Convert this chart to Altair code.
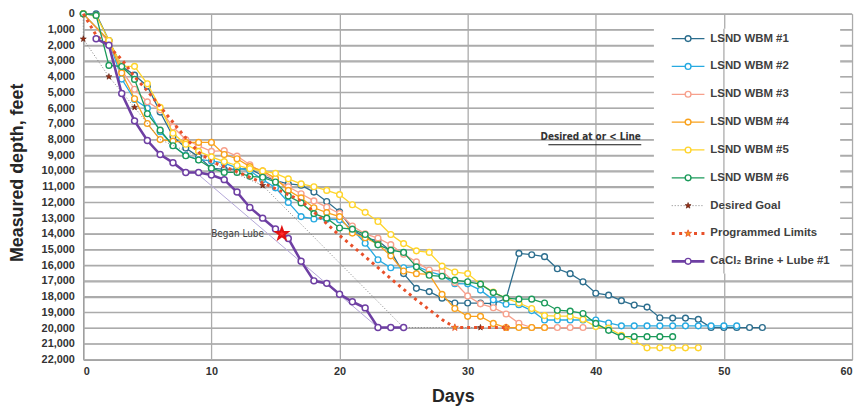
import altair as alt
import pandas as pd

# ---------------- data ----------------
WBM1_DAYS = list(range(0, 54))
WBM1_DEPTH = [0, 0, 1700, 3340, 3900, 4600, 6250, 7800, 8540, 9100,
              9820, 9900, 9880, 9850, 10300, 10613, 10820, 10900, 11340, 11940,
              12600, 13700, 14270, 14430, 15100, 16530, 17467, 17675, 18090, 18401,
              18401, 18401, 18443, 18120, 15245, 15327, 15452, 16221, 16533, 17051,
              17778, 17900, 18250, 18530, 18660, 19336, 19360, 19360, 19440, 19960,
              19960, 19960, 19960, 19960]

WBM2_DAYS = [0] + list(range(2, 52))
WBM2_DEPTH = [0, 1700, 4150, 5450, 6000, 7500, 8380, 9000, 9280, 9360,
              9500, 9800, 9990, 10550, 11070, 12000, 12900, 13050, 13064, 13105,
              13728, 14600, 15650, 16158, 16158, 16050, 16400, 16640, 17170, 17180,
              17580, 18200, 18480, 18505, 18880, 19482, 19482, 19482, 19482, 19482,
              19670, 19855, 19855, 19855, 19855, 19855, 19855, 19855, 19855, 19855,
              19855]

WBM3_DAYS = [0] + list(range(2, 40))
WBM3_DEPTH = [0, 1800, 3600, 4800, 5600, 6100, 7200, 8000, 8400, 8750,
              8700, 9050, 9600, 10100, 10600, 11000, 11450, 11900, 12300, 12700,
              13500, 14000, 14270, 14690, 15300, 15780, 16300, 16370, 17100, 17950,
              18450, 18700, 19100, 19690, 19960, 19960, 19960, 19960, 19960]

WBM4_DAYS = [0] + list(range(2, 37))
WBM4_DEPTH = [0, 1700, 3760, 5400, 6980, 8000, 8100, 8180, 8180, 8180,
              8950, 9220, 9720, 9990, 10470, 11236, 11714, 12337, 12648, 12900,
              13950, 14250, 14660, 15400, 16366, 16532, 16573, 17850, 18750, 19250,
              19250, 19700, 19960, 19960, 19960, 19960]

WBM5_DAYS = list(range(0, 49))
WBM5_DEPTH = [0, 100, 1700, 3340, 3340, 4450, 5950, 7600, 8300, 8750,
              9100, 9400, 9650, 9850, 10000, 10150, 10500, 10820, 11000, 11236,
              11500, 12150, 12630, 13210, 14040, 14620, 15080, 15180, 16050, 16430,
              16530, 17200, 17700, 18100, 18400, 18750, 19200, 19230, 19240, 19440,
              19900, 20000, 20450, 20800, 21250, 21250, 21250, 21250, 21250]

WBM6_DAYS = list(range(0, 47))
WBM6_DEPTH = [0, 100, 3280, 3350, 4170, 6356, 7400, 8391, 9030, 9300,
              9820, 10090, 10090, 10340, 10400, 10700, 11590, 12030, 12710, 13000,
              13625, 13700, 14040, 14700, 15036, 15182, 16100, 16636, 16700, 16947,
              17050, 17197, 17737, 18090, 18153, 18153, 18400, 18859, 18920, 19066,
              19700, 20140, 20540, 20540, 20540, 20540, 20540]

LUBE_DAYS = list(range(1, 26))
LUBE_DEPTH = [1580, 2000, 5070, 6810, 8060, 8950, 9470, 10095, 10095, 10260,
              10550, 11340, 12320, 13000, 13690, 14290, 15740, 16990, 17150, 17840,
              18320, 18710, 19960, 19960, 19960]

GOAL_DAYS = [0, 0, 2, 4, 6, 14, 25, 31]
GOAL_DEPTH = [0, 1600, 4000, 5950, 8000, 10920, 19960, 19960]
GOAL_MARKED = [False, True, True, True, False, True, False, True]

PROG_DAYS = [0, 1, 2, 3, 4, 5, 6, 7, 8, 9, 10, 12, 14, 16, 17, 18, 20, 22, 24, 26, 28, 29, 33]
PROG_DEPTH = [0, 1350, 2100, 2900, 4000, 4900, 5900, 6900, 7900, 8800, 9400, 10050, 10750,
              11500, 11900, 12600, 14100, 15450, 16850, 18200, 19450, 19960, 19960]
PROG_MARKED = [False] * 21 + [True, True]

TREND_DAYS = [8.8, 23]
TREND_DEPTH = [10100, 19960]

LUBE_START_DAY = [15.5]
LUBE_START_DEPTH = [14000]

NOTE_TEXTS = ["Began Lube", "Desired at or < Line"]
NOTE_DAYS = [14.1, 39.6]
NOTE_DEPTHS = [14020, 7850]
UNDERLINE_DAYS = [36.3, 43.55]
UNDERLINE_DEPTH = [8330]

X_TICKS = list(range(0, 61, 10))
Y_TICKS = list(range(0, 22001, 1000))

LEGEND_LABELS = ["LSND WBM #1", "LSND WBM #2", "LSND WBM #3", "LSND WBM #4",
                 "LSND WBM #5", "LSND WBM #6", "Desired Goal", "Programmed Limits",
                 "CaCl\u2082 Brine + Lube #1"]

# ---------------- styles ----------------
C1, C2, C3, C4, C5, C6 = "#2C6E8E", "#27AAE1", "#F7A08C", "#F9A11B", "#FFD42A", "#1B9A5A"
PURPLE = "#6E3FA3"
GOAL_C = "#808080"
GOAL_M = "#9A2E14"
PROG_C = "#E8502A"
PROG_M = "#F7941D"
TREND_C = "#B3A7D8"
GRID = "#ABABAB"
FONT = "Liberation Sans, Arial, sans-serif"
NARROW = "Liberation Sans Narrow, DejaVu Sans Condensed, Liberation Sans, sans-serif"
STAR = ("M0,-1L0.235,-0.324L0.951,-0.309L0.38,0.124L0.588,0.809L0,0.4"
        "L-0.588,0.809L-0.38,0.124L-0.951,-0.309L-0.235,-0.324Z")

X = alt.X("day:Q",
          scale=alt.Scale(domain=[0, 60], nice=False, zero=False),
          axis=alt.Axis(values=X_TICKS, title="Days", grid=True, orient="bottom",
                        gridColor=GRID, gridWidth=1.3,
                        ticks=False, tickSize=0, labelPadding=6,
                        titleX=373, titleY=37, titleBaseline="middle", titleAlign="center"))
Y = alt.Y("depth:Q",
          scale=alt.Scale(domain=[0, 22000], reverse=True, nice=False, zero=False),
          axis=alt.Axis(values=Y_TICKS, labelExpr="format(datum.value, ',')", orient="left",
                        title="Measured depth, feet", grid=True, gridColor=GRID, gridWidth=1.3,
                        ticks=False, tickSize=0, labelPadding=9,
                        titleX=-66, titleY=160, titleBaseline="middle", titleAlign="center"))


def frame(days, depths):
    return pd.DataFrame({"day": days, "depth": depths, "idx": list(range(len(days)))})


layers = []

# horizontal grid lines drawn from the tick list (beneath everything)
hgrid = pd.DataFrame({"depth": Y_TICKS})
layers.append(alt.Chart(hgrid).mark_rule(color=GRID, strokeWidth=1.3).encode(y=Y))

def series(days, depths, color, width, dash=None, points=True, psize=34, pwidth=1.4):
    df = frame(days, depths)
    kw = dict(color=color, strokeWidth=width, clip=False)
    if dash:
        kw["strokeDash"] = dash
    layers.append(alt.Chart(df).mark_line(**kw).encode(x=X, y=Y, order="idx:Q"))
    if points:
        layers.append(alt.Chart(df).mark_point(shape="circle", filled=False, fill="white",
                                               fillOpacity=1, stroke=color, strokeWidth=pwidth,
                                               size=psize, opacity=1).encode(x=X, y=Y))

series(WBM1_DAYS, WBM1_DEPTH, C1, 1.3)
series(WBM2_DAYS, WBM2_DEPTH, C2, 1.3)
series(WBM3_DAYS, WBM3_DEPTH, C3, 1.3)
series(WBM4_DAYS, WBM4_DEPTH, C4, 1.3)
series(WBM5_DAYS, WBM5_DEPTH, C5, 1.3)
series(WBM6_DAYS, WBM6_DEPTH, C6, 1.3)

# desired goal
series(GOAL_DAYS, GOAL_DEPTH, GOAL_C, 1, dash=[1, 2], points=False)
gm = frame([d for d, m in zip(GOAL_DAYS, GOAL_MARKED) if m],
           [v for v, m in zip(GOAL_DEPTH, GOAL_MARKED) if m])
layers.append(alt.Chart(gm).mark_point(shape=STAR, filled=True, fill=GOAL_M, stroke="#5A1A0A",
                                       strokeWidth=0.6, size=40, opacity=1).encode(x=X, y=Y))

# programmed limits
series(PROG_DAYS, PROG_DEPTH, PROG_C, 3, dash=[3, 4], points=False)
pm = frame([d for d, m in zip(PROG_DAYS, PROG_MARKED) if m],
           [v for v, m in zip(PROG_DEPTH, PROG_MARKED) if m])
layers.append(alt.Chart(pm).mark_point(shape=STAR, filled=True, fill=PROG_M, stroke=PROG_C,
                                       strokeWidth=0.8, size=55, opacity=1).encode(x=X, y=Y))

# trend line and lube well
series(TREND_DAYS, TREND_DEPTH, TREND_C, 1, points=False)
series(LUBE_DAYS, LUBE_DEPTH, PURPLE, 2.6, psize=36, pwidth=1.5)

layers.append(alt.Chart(frame(LUBE_START_DAY, LUBE_START_DEPTH)).mark_point(
    shape=STAR, filled=True, fill="#FF2B2B", stroke="#E01010", size=150, opacity=1).encode(x=X, y=Y))

notes = pd.DataFrame({"day": NOTE_DAYS, "depth": NOTE_DEPTHS, "label": NOTE_TEXTS})
layers.append(alt.Chart(notes.iloc[[0]]).mark_text(align="right", baseline="middle", font=NARROW,
                                                   fontSize=10, color="#404040").encode(
    x=X, y=Y, text="label:N"))
layers.append(alt.Chart(notes.iloc[[1]]).mark_text(align="center", baseline="middle", font=NARROW,
                                                   fontSize=10, fontWeight="bold", color="#333333").encode(
    x=X, y=Y, text="label:N"))
ul = pd.DataFrame({"day": [UNDERLINE_DAYS[0]], "day2": [UNDERLINE_DAYS[1]], "depth": UNDERLINE_DEPTH})
layers.append(alt.Chart(ul).mark_rule(color="#111111", strokeWidth=1).encode(x=X, x2="day2:Q", y=Y))

# ---------------- legend (drawn manually) ----------------
one = pd.DataFrame({"day": [50]})
LX0, LX1, LY0, LY1 = 576, 764, 15, 262
layers.append(alt.Chart(one).mark_rect(fill="white", opacity=1).encode(
    x=alt.value(LX0), x2=alt.value(LX1), y=alt.value(LY0), y2=alt.value(LY1)))
layers.append(alt.Chart(one).mark_rule(color=GRID, strokeWidth=1.3).encode(
    x=X, y=alt.value(LY0), y2=alt.value(LY1)))

leg_styles = [
    (C1, 1.3, None, "circle"), (C2, 1.3, None, "circle"), (C3, 1.3, None, "circle"),
    (C4, 1.3, None, "circle"), (C5, 1.3, None, "circle"), (C6, 1.3, None, "circle"),
    (GOAL_C, 1, [1, 2], "goal"), (PROG_C, 3, [3, 4.5], "prog"), (PURPLE, 2.8, None, "circle"),
]
SYM_X0, SYM_X1, TXT_X = 594, 627, 633
for i, (label, (col, w, dash, mk)) in enumerate(zip(LEGEND_LABELS, leg_styles)):
    yy = 25 + i * 28.1
    kw = dict(color=col, strokeWidth=w)
    if dash:
        kw["strokeDash"] = dash
    layers.append(alt.Chart(one).mark_rule(**kw).encode(
        x=alt.value(SYM_X0), x2=alt.value(SYM_X1), y=alt.value(yy)))
    if mk == "circle":
        pt = alt.Chart(one).mark_point(shape="circle", filled=False, fill="white", fillOpacity=1,
                                       stroke=col, strokeWidth=1.4, size=34, opacity=1)
    elif mk == "goal":
        pt = alt.Chart(one).mark_point(shape=STAR, filled=True, fill=GOAL_M, stroke="#5A1A0A",
                                       strokeWidth=0.6, size=40, opacity=1)
    else:
        pt = alt.Chart(one).mark_point(shape=STAR, filled=True, fill=PROG_M, stroke=PROG_C,
                                       strokeWidth=0.8, size=55, opacity=1)
    layers.append(pt.encode(x=alt.value((SYM_X0 + SYM_X1) / 2), y=alt.value(yy)))
    layers.append(alt.Chart(one).mark_text(text=label, align="left", baseline="middle", font=FONT,
                                           fontSize=11.5, fontWeight="bold", color="#404040").encode(
        x=alt.value(TXT_X), y=alt.value(yy)))

chart = alt.layer(*layers).properties(
    width=776, height=349,
    autosize=alt.AutoSizeParams(type="none"),
    padding={"left": 76, "top": 4, "right": 4, "bottom": 50},
).configure_view(stroke=None).configure_axis(
    labelFont=FONT, labelFontSize=11, labelFontWeight="bold", labelColor="#333333",
    titleFont=FONT, titleFontSize=18, titleFontWeight="bold", titleColor="#262626",
    gridColor=GRID, gridWidth=1.3, domainColor="#9A9A9A", domainWidth=1.2,
)

chart.save("out.html", embed_options={"renderer": "svg", "actions": False})
